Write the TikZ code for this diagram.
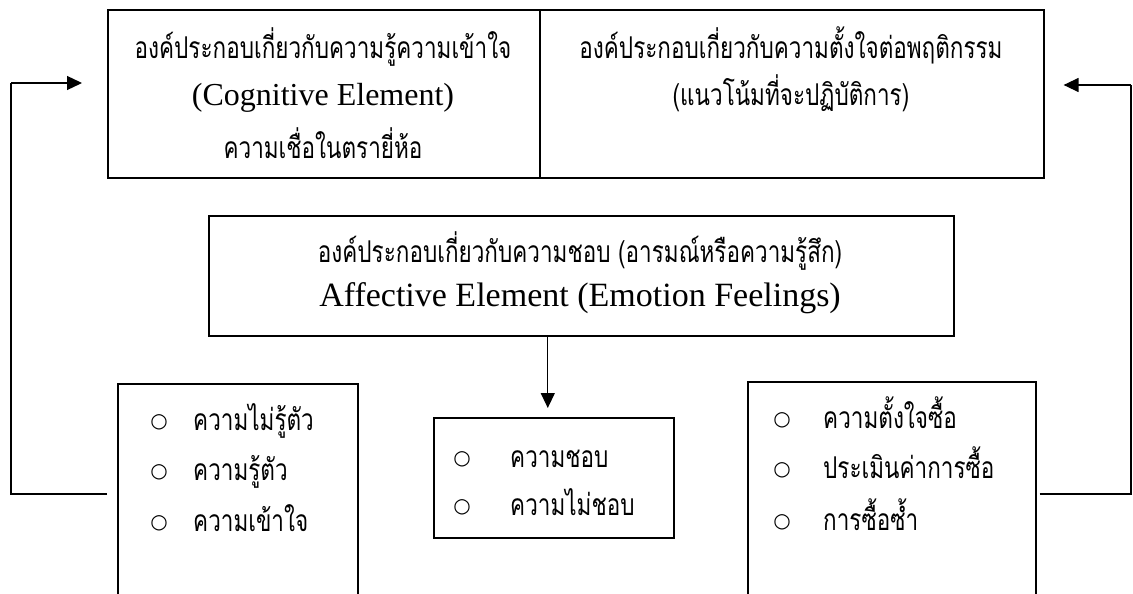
\documentclass[tikz,border=0pt]{standalone}
\usepackage{fontspec}
\setmainfont{Liberation Serif}
\newfontfamily\thai[Script=Thai,FakeStretch=0.75]{Loma}
\newfontfamily\sym{DejaVu Sans}
\usetikzlibrary{arrows.meta}
\tikzset{
  box/.style={draw, line width=1.6pt, anchor=north west, inner sep=0pt},
  conn/.style={line width=1.3pt},
  arr/.style={line width=1.3pt, -{Triangle[length=15pt,width=14pt]}},
  th/.style={font=\thai\fontsize{30}{34}\selectfont, anchor=base, inner sep=0pt},
  thl/.style={font=\thai\fontsize{30}{34}\selectfont, anchor=base west, inner sep=0pt},
  en/.style={font=\fontsize{32}{36}\selectfont, anchor=base, inner sep=0pt},
  bul/.style={font=\sym\fontsize{20}{24}\selectfont, anchor=center, inner sep=0pt}
}
\begin{document}
\begin{tikzpicture}[x=1pt,y=-1pt]
\useasboundingbox (0,0) rectangle (1133,594);
\clip (0,0) rectangle (1133,594);
% boxes
\node[box, minimum width=432pt, minimum height=168pt] (tl) at (107,9) {};
\node[box, minimum width=504pt, minimum height=168pt] (tr) at (539,9) {};
\node[box, minimum width=745pt, minimum height=120pt] (mb) at (208,215) {};
\node[box, minimum width=240pt, minimum height=120pt] (ms) at (433,417) {};
\node[box, minimum width=240pt, minimum height=260pt] (bl) at (117,383) {};
\node[box, minimum width=288pt, minimum height=260pt] (br) at (747,381) {};
% top-left texts
\node[th] (t1) at (323,59) {องค์ประกอบเกี่ยวกับความรู้ความเข้าใจ};
\node[en] (t2) at (323,106) {(Cognitive Element)};
\node[th] (t3) at (323,158) {ความเชื่อในตรายี่ห้อ};
% top-right texts
\node[th] (r1) at (791,59) {องค์ประกอบเกี่ยวกับความตั้งใจต่อพฤติกรรม};
\node[th] (r2) at (791,105) {(แนวโน้มที่จะปฏิบัติการ)};
% middle texts
\node[th] (m1) at (580,262) {องค์ประกอบเกี่ยวกับความชอบ (อารมณ์หรือความรู้สึก)};
\node[en, font=\fontsize{34}{40}\selectfont] (m2) at (580,306) {Affective Element (Emotion Feelings)};
% bottom-left list
\node[bul] (b1) at (159,422) {○};
\node[bul] (b2) at (159,472) {○};
\node[bul] (b3) at (159,523) {○};
\node[thl] (l1) at (193,430) {ความไม่รู้ตัว};
\node[thl] (l2) at (193,480) {ความรู้ตัว};
\node[thl] (l3) at (193,531) {ความเข้าใจ};
% middle small list
\node[bul] (c1) at (462,459) {○};
\node[bul] (c2) at (462,507) {○};
\node[thl] (s1) at (510,467) {ความชอบ};
\node[thl] (s2) at (510,515) {ความไม่ชอบ};
% bottom-right list
\node[bul] (d1) at (782,420) {○};
\node[bul] (d2) at (782,470) {○};
\node[bul] (d3) at (782,522) {○};
\node[thl] (q1) at (823,428) {ความตั้งใจซื้อ};
\node[thl] (q2) at (823,478) {ประเมินค่าการซื้อ};
\node[thl] (q3) at (823,530) {การซื้อซ้ำ};
% connectors
\coordinate (lb) at (11,494);
\coordinate (lt) at (11,83);
\coordinate (rb) at (1131,494);
\coordinate (rt) at (1131,85);
\draw[conn] ([xshift=-10pt]bl.west |- lb) -- (lb) -- (lt);
\draw[arr] (lt) -- ([xshift=-25pt]tl.west |- lt);
\draw[conn] ([xshift=3pt]br.east |- rb) -- (rb) -- (rt);
\draw[arr] (rt) -- ([xshift=19pt]tr.east |- rt);
\draw[arr, shorten >=9pt] ([xshift=-33.5pt]mb.south) -- ([xshift=-33.5pt]mb.south |- ms.north);
\end{tikzpicture}
\end{document}
